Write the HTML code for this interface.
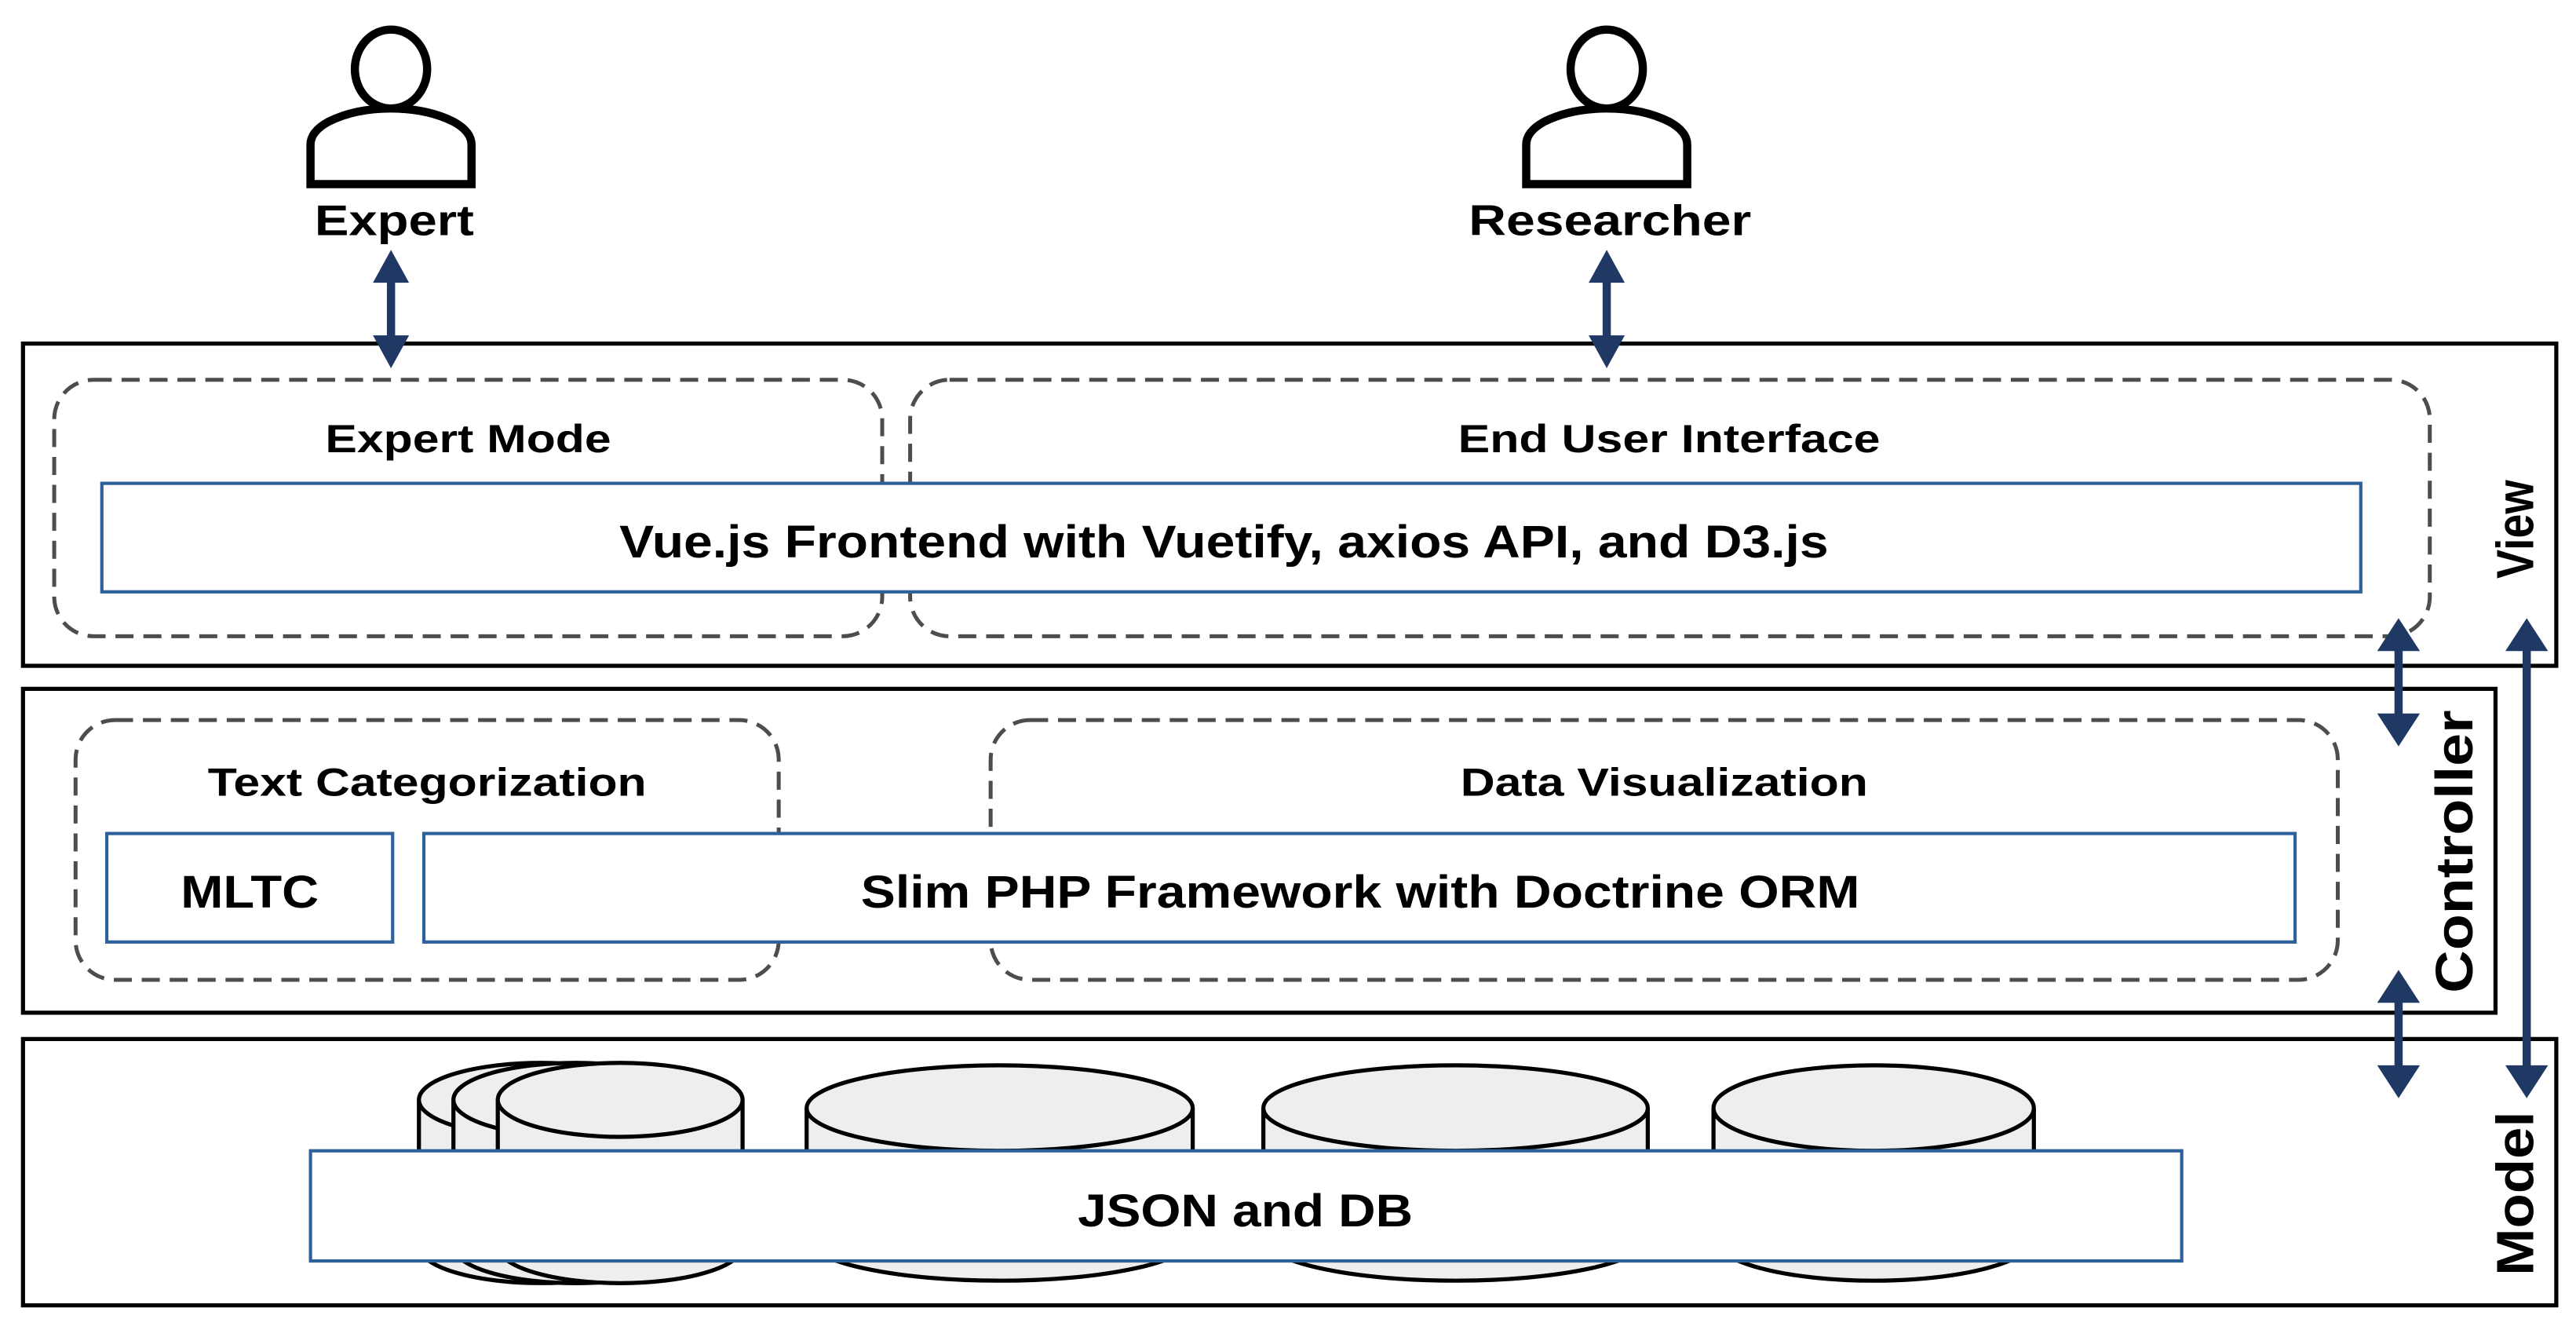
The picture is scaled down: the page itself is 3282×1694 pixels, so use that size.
<!DOCTYPE html>
<html><head><meta charset="utf-8"><style>
html,body{margin:0;padding:0;background:#fff;}
svg{display:block;}
text{font-family:"Liberation Sans",Arial,sans-serif;font-weight:bold;fill:#000;}
</style></head><body>
<svg width="3282" height="1694" viewBox="0 0 1568 809" preserveAspectRatio="none" xmlns="http://www.w3.org/2000/svg">
<defs>
<g id="person">
<ellipse cx="0" cy="0" rx="22" ry="24" fill="#fff" stroke="#000" stroke-width="5"/>
<path d="M-49,70 L-49,46 Q-49,38 -38,32 Q-22,24 0,24 Q22,24 38,32 Q49,38 49,46 L49,70 Z" fill="#fff" stroke="#000" stroke-width="5"/>
</g>
</defs>
<use href="#person" x="238" y="42"/>
<use href="#person" x="978" y="42"/>
<text x="240" y="143" font-size="26" text-anchor="middle" textLength="97" lengthAdjust="spacingAndGlyphs">Expert</text>
<text x="980" y="143" font-size="26" text-anchor="middle" textLength="172" lengthAdjust="spacingAndGlyphs">Researcher</text>

<rect x="14" y="209" width="1542" height="196" fill="#fff" stroke="#000" stroke-width="2.5"/>
<rect x="14" y="419" width="1505" height="197" fill="#fff" stroke="#000" stroke-width="2.5"/>
<rect x="14" y="632" width="1542" height="162" fill="#fff" stroke="#000" stroke-width="2.5"/>

<g fill="none" stroke="#4d4d4d" stroke-width="2.4" stroke-dasharray="11 6">
<rect x="33" y="231" width="504" height="156" rx="24"/>
<rect x="554" y="231" width="925" height="156" rx="24"/>
<rect x="46" y="438" width="428" height="158" rx="24"/>
<rect x="603" y="438" width="820" height="158" rx="24"/>
</g>
<text x="285" y="275" font-size="24" text-anchor="middle" textLength="174" lengthAdjust="spacingAndGlyphs">Expert Mode</text>
<text x="1016" y="275" font-size="24" text-anchor="middle" textLength="257" lengthAdjust="spacingAndGlyphs">End User Interface</text>
<text x="260" y="484" font-size="24" text-anchor="middle" textLength="267" lengthAdjust="spacingAndGlyphs">Text Categorization</text>
<text x="1013" y="484" font-size="24" text-anchor="middle" textLength="248" lengthAdjust="spacingAndGlyphs">Data Visualization</text>

<rect x="62" y="294" width="1375" height="66" fill="#fff" stroke="#2e6099" stroke-width="2"/>
<text x="745" y="339" font-size="28" text-anchor="middle" textLength="736" lengthAdjust="spacingAndGlyphs">Vue.js Frontend with Vuetify, axios API, and D3.js</text>

<rect x="65" y="507" width="174" height="66" fill="#fff" stroke="#2e6099" stroke-width="2"/>
<text x="152" y="552" font-size="28" text-anchor="middle" textLength="84" lengthAdjust="spacingAndGlyphs">MLTC</text>
<rect x="258" y="507" width="1139" height="66" fill="#fff" stroke="#2e6099" stroke-width="2"/>
<text x="828" y="552" font-size="28" text-anchor="middle" textLength="608" lengthAdjust="spacingAndGlyphs">Slim PHP Framework with Doctrine ORM</text>

<g fill="#eeeeee" stroke="#000" stroke-width="2.5">
<path d="M255,669 L255,758 A74.5,22.5 0 0 0 404,758 L404,669"/>
<ellipse cx="329.5" cy="669" rx="74.5" ry="22.5"/>
<path d="M276,669 L276,758 A74.5,22.5 0 0 0 425,758 L425,669"/>
<ellipse cx="350.5" cy="669" rx="74.5" ry="22.5"/>
<path d="M303,669 L303,758 A74.5,22.5 0 0 0 452,758 L452,669"/>
<ellipse cx="377.5" cy="669" rx="74.5" ry="22.5"/>
<path d="M491,674 L491,753 A117.5,26 0 0 0 726,753 L726,674"/>
<ellipse cx="608.5" cy="674" rx="117.5" ry="26"/>
<path d="M769,674 L769,753 A117,26 0 0 0 1003,753 L1003,674"/>
<ellipse cx="886" cy="674" rx="117" ry="26"/>
<path d="M1043,674 L1043,753 A97.5,26 0 0 0 1238,753 L1238,674"/>
<ellipse cx="1140.5" cy="674" rx="97.5" ry="26"/>
</g>
<rect x="189" y="700" width="1139" height="67" fill="#fff" stroke="#2e6099" stroke-width="2"/>
<text x="758" y="746" font-size="28" text-anchor="middle" textLength="204" lengthAdjust="spacingAndGlyphs">JSON and DB</text>

<text transform="translate(1542,322) rotate(-90)" font-size="32" text-anchor="middle" textLength="60" lengthAdjust="spacingAndGlyphs">View</text>
<text transform="translate(1505,518) rotate(-90)" font-size="32" text-anchor="middle" textLength="172" lengthAdjust="spacingAndGlyphs">Controller</text>
<text transform="translate(1542,726) rotate(-90)" font-size="32" text-anchor="middle" textLength="100" lengthAdjust="spacingAndGlyphs">Model</text>

<g fill="#203864" stroke="none">
<rect x="235.5" y="170" width="5" height="36"/>
<polygon points="238,152 227,172 249,172"/>
<polygon points="238,224 227,204 249,204"/>
<rect x="975.5" y="170" width="5" height="36"/>
<polygon points="978,152 967,172 989,172"/>
<polygon points="978,224 967,204 989,204"/>
<rect x="1457.5" y="394" width="5" height="42"/>
<polygon points="1460,376 1447,396 1473,396"/>
<polygon points="1460,454 1447,434 1473,434"/>
<rect x="1457.5" y="608" width="5" height="42"/>
<polygon points="1460,590 1447,610 1473,610"/>
<polygon points="1460,668 1447,648 1473,648"/>
<rect x="1535.5" y="394" width="5" height="256"/>
<polygon points="1538,376 1525,396 1551,396"/>
<polygon points="1538,668 1525,648 1551,648"/>
</g>
</svg>
</body></html>
